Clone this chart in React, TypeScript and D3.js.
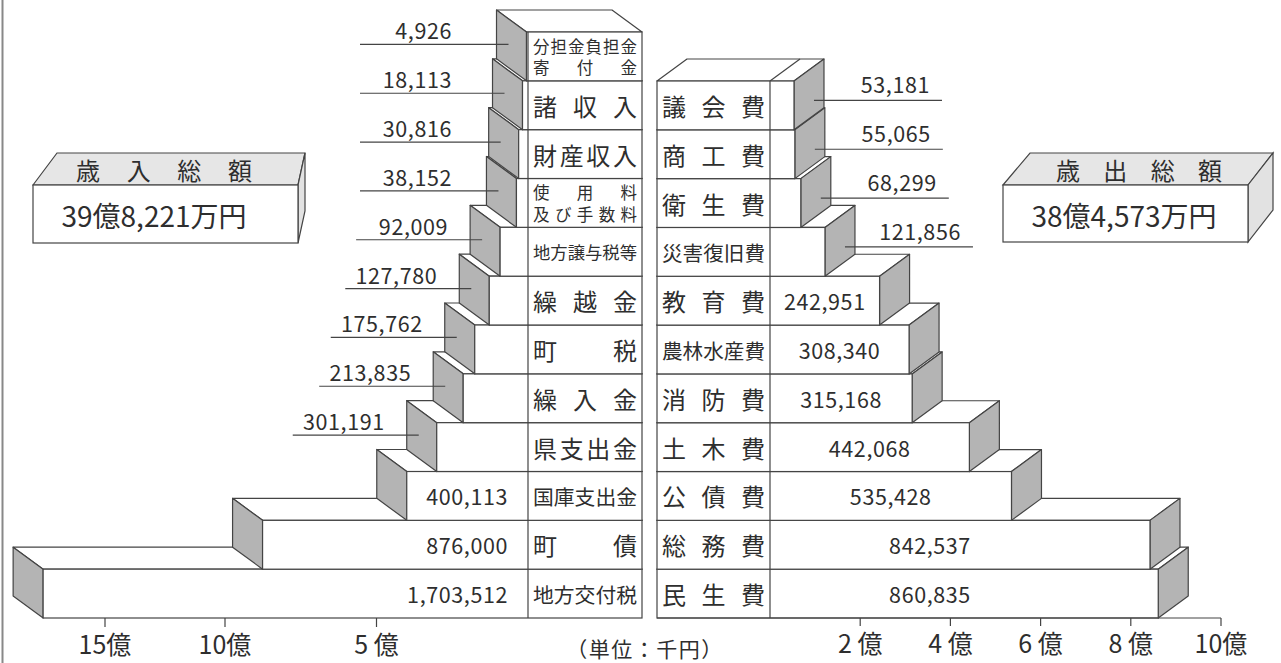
import React from "react";
import * as d3 from "d3";

// ---------- data ----------
const revenueCategories: string[][] = [
  ["分担金負担金", "寄付金"],
  ["諸収入"],
  ["財産収入"],
  ["使用料", "及び手数料"],
  ["地方譲与税等"],
  ["繰越金"],
  ["町税"],
  ["繰入金"],
  ["県支出金"],
  ["国庫支出金"],
  ["町債"],
  ["地方交付税"],
];
const revenueValues = [4926, 18113, 30816, 38152, 92009, 127780, 175762, 213835, 301191, 400113, 876000, 1703512];

const expenditureCategories: string[][] = [
  ["議会費"],
  ["商工費"],
  ["衛生費"],
  ["災害復旧費"],
  ["教育費"],
  ["農林水産費"],
  ["消防費"],
  ["土木費"],
  ["公債費"],
  ["総務費"],
  ["民生費"],
];
const expenditureValues = [53181, 55065, 68299, 121856, 242951, 308340, 315168, 442068, 535428, 842537, 860835];

const revenueTicks = [500000, 1000000, 1500000];
const revenueTickLabels = ["5 億", "10億", "15億"];
const expenditureTicks = [200000, 400000, 600000, 800000, 1000000];
const expenditureTickLabels = ["2 億", "4 億", "6 億", "8 億", "10億"];

const totalRevenueTitle = "歳入総額";
const totalRevenueLabel = "39億8,221万円";
const totalExpenditureTitle = "歳出総額";
const totalExpenditureLabel = "38億4,573万円";
const unitLabel = "（単位：千円）";

// ---------- layout ----------
const W = 1281;
const H = 663;
const FONT = "'Noto Sans CJK JP', 'Noto Sans', sans-serif";
const INK = "#2e2e2e";
const EDGE = "#444";
const SIDE = "#b4b4b4";
const DX = 30;
const DY = 22;
const L_COL0 = 528;
const L_COL1 = 642;
const R_COL0 = 657;
const R_COL1 = 770;
const BOTTOM = 618;

const fmt = d3.format(",");

const pts = (p: [number, number][]) => p.map((q) => q.join(",")).join(" ");

function CatLabel({ lines, x0, x1, cy }: { lines: string[]; x0: number; x1: number; cy: number }) {
  const w = x1 - x0;
  const pad = 5;
  const maxN = d3.max(lines, (l) => l.length) || 1;
  let fs = Math.min(24, (w - 2 * pad) / Math.max(maxN, 4));
  if (lines.length > 1) fs = Math.min(fs, 16.5);
  const lineGap = lines.length > 1 ? 21.5 : 0;
  return (
    <g>
      {lines.map((line, li) => {
        const chars = Array.from(line);
        const n = chars.length;
        const y = cy + (li - (lines.length - 1) / 2) * lineGap;
        return chars.map((c, i) => {
          const x = n === 1 ? (x0 + x1) / 2 : x0 + pad + fs / 2 + (i * (w - 2 * pad - fs)) / (n - 1);
          return (
            <text
              key={li + "-" + i}
              x={x}
              y={y}
              fontSize={fs}
              textAnchor="middle"
              dominantBaseline="central"
              fill={INK}
              fontFamily={FONT}
            >
              {c}
            </text>
          );
        });
      })}
    </g>
  );
}

function SpreadText({ text, x0, x1, y, fs }: { text: string; x0: number; x1: number; y: number; fs: number }) {
  const chars = Array.from(text);
  const n = chars.length;
  return (
    <g>
      {chars.map((c, i) => (
        <text
          key={i}
          x={x0 + fs / 2 + (i * (x1 - x0 - fs)) / (n - 1)}
          y={y}
          fontSize={fs}
          textAnchor="middle"
          dominantBaseline="central"
          fill={INK}
          fontFamily={FONT}
        >
          {c}
        </text>
      ))}
    </g>
  );
}

export default function App() {
  const idxL = revenueValues.map((_, i) => i);
  const idxR = expenditureValues.map((_, i) => i);

  const yL = d3.scaleBand<number>().domain(idxL).range([32, BOTTOM]);
  const yR = d3.scaleBand<number>().domain(idxR).range([81, BOTTOM]);

  // left side uses a compressed (broken) scale beyond 10億, as drawn in the original
  const xL = d3.scaleLinear().domain([0, 1000000, 1500000, 1750000]).range([L_COL0, 225, 105, 29]);
  const xR = d3.scaleLinear().domain([0, 1000000]).range([R_COL1, 1221]);

  const bwL = yL.bandwidth();
  const bwR = yR.bandwidth();

  const numStyle = { fontFamily: FONT, fontSize: 21.5, letterSpacing: 0.6, fill: INK } as const;

  // left boxes (draw bottom first)
  const leftBoxes = idxL
    .slice()
    .reverse()
    .map((i) => {
      const L = xL(revenueValues[i]);
      const top = yL(i)!;
      const bot = top + bwL;
      return (
        <g key={"lb" + i}>
          <polygon
            points={pts([
              [L, top],
              [L - DX, top - DY],
              [L_COL1 - DX, top - DY],
              [L_COL1, top],
            ])}
            fill="#fff"
            stroke={EDGE}
            strokeWidth={1.2}
            strokeLinejoin="round"
          />
          <polygon
            points={pts([
              [L, top],
              [L - DX, top - DY],
              [L - DX, bot - DY],
              [L, bot],
            ])}
            fill={SIDE}
            stroke={EDGE}
            strokeWidth={1.2}
            strokeLinejoin="round"
          />
          <rect x={L} y={top} width={L_COL1 - L} height={bwL} fill="#fff" stroke={EDGE} strokeWidth={1.2} />
        </g>
      );
    });

  const rightBoxes = idxR
    .slice()
    .reverse()
    .map((i) => {
      const R = xR(expenditureValues[i]);
      const top = yR(i)!;
      const bot = top + bwR;
      return (
        <g key={"rb" + i}>
          <polygon
            points={pts([
              [R_COL0, top],
              [R_COL0 + DX, top - DY],
              [R + DX, top - DY],
              [R, top],
            ])}
            fill="#fff"
            stroke={EDGE}
            strokeWidth={1.2}
            strokeLinejoin="round"
          />
          {i === 0 && (
            <line x1={R_COL1} y1={top} x2={R_COL1 + DX} y2={top - DY} stroke={EDGE} strokeWidth={1.2} />
          )}
          <polygon
            points={pts([
              [R, top],
              [R + DX, top - DY],
              [R + DX, bot - DY],
              [R, bot],
            ])}
            fill={SIDE}
            stroke={EDGE}
            strokeWidth={1.2}
            strokeLinejoin="round"
          />
          <rect x={R_COL0} y={top} width={R - R_COL0} height={bwR} fill="#fff" stroke={EDGE} strokeWidth={1.2} />
        </g>
      );
    });

  // left value labels
  const leftLabels = idxL.map((i) => {
    const v = revenueValues[i];
    const L = xL(v);
    const top = yL(i)!;
    const mid = top + bwL / 2;
    if (L_COL0 - L >= 100) {
      return (
        <text key={"lv" + i} x={L_COL0 - 20} y={mid} textAnchor="end" dominantBaseline="central" {...numStyle}>
          {fmt(v)}
        </text>
      );
    }
    const ly = mid - 12;
    const x2 = L - DX / 2 - 3;
    const tEnd = Math.min(452, x2 - 34);
    const x1 = tEnd - 92;
    return (
      <g key={"lv" + i}>
        <line x1={x1} y1={ly} x2={x2} y2={ly} stroke={EDGE} strokeWidth={1.2} />
        <text x={tEnd} y={ly - 5} textAnchor="end" {...numStyle}>
          {fmt(v)}
        </text>
      </g>
    );
  });

  const rightLabels = idxR.map((i) => {
    const v = expenditureValues[i];
    const R = xR(v);
    const top = yR(i)!;
    const mid = top + bwR / 2;
    const w = R - R_COL1;
    if (w >= 100) {
      return (
        <text
          key={"rv" + i}
          x={R_COL1 + Math.min(w / 2, 160)}
          y={mid}
          textAnchor="middle"
          dominantBaseline="central"
          {...numStyle}
        >
          {fmt(v)}
        </text>
      );
    }
    const ly = mid - 5;
    const x1 = R + 20;
    const x2 = R + 148;
    return (
      <g key={"rv" + i}>
        <line x1={x1} y1={ly} x2={x2} y2={ly} stroke={EDGE} strokeWidth={1.2} />
        <text x={x2 - 12} y={ly - 7} textAnchor="end" {...numStyle}>
          {fmt(v)}
        </text>
      </g>
    );
  });

  return (
    <svg
      width={W}
      height={H}
      viewBox={`0 0 ${W} ${H}`}
      style={{ position: "absolute", left: 0, top: 0, background: "#fff" }}
    >
      <rect x={0} y={0} width={W} height={H} fill="#fff" />
      <line x1={2.5} y1={0} x2={2.5} y2={H} stroke="#888" strokeWidth={2} />

      {/* summary boxes */}
      <g>
        <polygon points={pts([[33, 185], [57, 153], [305, 153], [298, 185]])} fill="#e6e6e6" stroke={EDGE} strokeWidth={1.2} />
        <polygon points={pts([[298, 185], [305, 153], [305, 211], [298, 243]])} fill="#e2e2e2" stroke={EDGE} strokeWidth={1.2} />
        <rect x={33} y={185} width={265} height={58} fill="#fff" stroke={EDGE} strokeWidth={1.2} />
        <SpreadText text={totalRevenueTitle} x0={76} x1={252} y={169} fs={24} />
        <text x={154} y={215} textAnchor="middle" dominantBaseline="central" fontFamily={FONT} fontSize={28} fill={INK}>
          {totalRevenueLabel}
        </text>
      </g>
      <g>
        <polygon points={pts([[1003, 185], [1030, 153], [1273, 153], [1248, 185]])} fill="#e6e6e6" stroke={EDGE} strokeWidth={1.2} />
        <polygon points={pts([[1248, 185], [1273, 153], [1273, 210], [1248, 242]])} fill="#e2e2e2" stroke={EDGE} strokeWidth={1.2} />
        <rect x={1003} y={185} width={245} height={57} fill="#fff" stroke={EDGE} strokeWidth={1.2} />
        <SpreadText text={totalExpenditureTitle} x0={1056} x1={1222} y={169} fs={24} />
        <text x={1124} y={215} textAnchor="middle" dominantBaseline="central" fontFamily={FONT} fontSize={28} fill={INK}>
          {totalExpenditureLabel}
        </text>
      </g>

      {leftBoxes}
      {rightBoxes}

      {/* category column dividers */}
      <line x1={L_COL0} y1={32} x2={L_COL0} y2={BOTTOM} stroke={EDGE} strokeWidth={1.2} />
      <line x1={R_COL1} y1={81} x2={R_COL1} y2={BOTTOM} stroke={EDGE} strokeWidth={1.2} />

      {idxL.map((i) => (
        <CatLabel key={"lc" + i} lines={revenueCategories[i]} x0={L_COL0} x1={L_COL1} cy={yL(i)! + bwL / 2} />
      ))}
      {idxR.map((i) => (
        <CatLabel key={"rc" + i} lines={expenditureCategories[i]} x0={R_COL0} x1={R_COL1} cy={yR(i)! + bwR / 2} />
      ))}

      {leftLabels}
      {rightLabels}

      {/* axes */}
      {revenueTicks.map((t, i) => (
        <g key={"lt" + i}>
          <line x1={xL(t)} y1={BOTTOM} x2={xL(t)} y2={BOTTOM + 9} stroke={EDGE} strokeWidth={1.2} />
          <text x={xL(t)} y={643} textAnchor="middle" dominantBaseline="central" fontFamily={FONT} fontSize={25} fill={INK}>
            {revenueTickLabels[i]}
          </text>
        </g>
      ))}
      <line x1={R_COL0} y1={BOTTOM} x2={xR(expenditureTicks[expenditureTicks.length - 1])} y2={BOTTOM} stroke={EDGE} strokeWidth={1.2} />
      {expenditureTicks.map((t, i) => (
        <g key={"rt" + i}>
          <line x1={xR(t)} y1={BOTTOM} x2={xR(t)} y2={BOTTOM + 8} stroke={EDGE} strokeWidth={1.2} />
          <text x={xR(t)} y={642} textAnchor="middle" dominantBaseline="central" fontFamily={FONT} fontSize={25} fill={INK}>
            {expenditureTickLabels[i]}
          </text>
        </g>
      ))}

      <text x={645} y={648} textAnchor="middle" dominantBaseline="central" fontFamily={FONT} fontSize={21} letterSpacing={1.5} fill={INK}>
        {unitLabel}
      </text>
    </svg>
  );
}
